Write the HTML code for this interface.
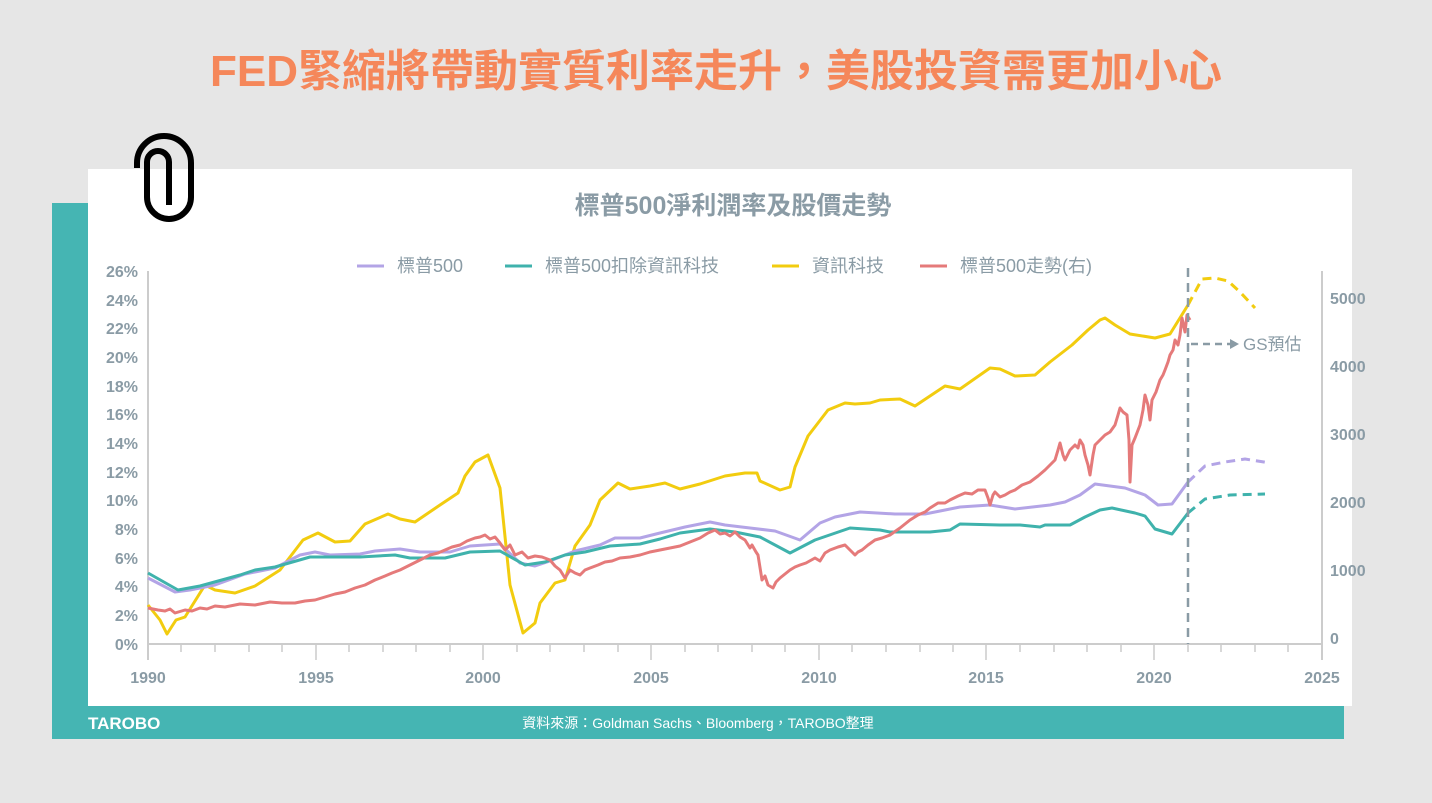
<!DOCTYPE html><html><head><meta charset="utf-8"><style>
body{margin:0;width:1432px;height:803px;background:#e6e6e6;overflow:hidden;font-family:"Liberation Sans","Noto Sans CJK TC",sans-serif}
</style></head><body>
<svg width="1432" height="803" xmlns="http://www.w3.org/2000/svg" style="position:absolute;left:0;top:0" font-family="Liberation Sans, Noto Sans CJK TC, sans-serif">
<rect x="52" y="203" width="1292" height="536" fill="#45b5b3"/>
<rect x="88" y="169" width="1264" height="537" fill="#fff"/>
<text x="716" y="86" text-anchor="middle" font-size="44" font-weight="bold" fill="#f5875a">FED緊縮將帶動實質利率走升，美股投資需更加小心</text>
<path d="M137,168 L137,163 A27,27 0 0 1 191,163 L191,197 A22,22 0 0 1 147,197 L147,162 A11,11 0 0 1 169,162 L169,205" fill="none" stroke="#000" stroke-width="6"/>
<text x="733" y="214" text-anchor="middle" font-size="25" font-weight="bold" fill="#8a9ba5">標普500淨利潤率及股價走勢</text>
<g font-size="18" fill="#8a9ba5">
<line x1="357" y1="266" x2="384" y2="266" stroke="#b3a4e6" stroke-width="3"/><text x="397" y="272">標普500</text>
<line x1="505" y1="266" x2="532" y2="266" stroke="#3fb2ac" stroke-width="3"/><text x="545" y="272">標普500扣除資訊科技</text>
<line x1="772" y1="266" x2="799" y2="266" stroke="#f2cc0f" stroke-width="3"/><text x="812" y="272">資訊科技</text>
<line x1="920" y1="266" x2="947" y2="266" stroke="#e57a7a" stroke-width="3"/><text x="960" y="272">標普500走勢(右)</text>
</g>
<g stroke="#ccc" stroke-width="2">
<line x1="148" y1="271" x2="148" y2="660"/><line x1="1322" y1="271" x2="1322" y2="660"/><line x1="148" y1="644" x2="1322" y2="644"/>
</g>
<g font-size="16" font-weight="bold" fill="#8a9ba5" text-anchor="end">
<text x="138" y="277">26%</text><text x="138" y="306">24%</text><text x="138" y="334">22%</text><text x="138" y="363">20%</text><text x="138" y="392">18%</text><text x="138" y="420">16%</text><text x="138" y="449">14%</text><text x="138" y="478">12%</text><text x="138" y="506">10%</text><text x="138" y="535">8%</text><text x="138" y="564">6%</text><text x="138" y="592">4%</text><text x="138" y="621">2%</text><text x="138" y="650">0%</text>
</g>
<g font-size="16" font-weight="bold" fill="#8a9ba5" text-anchor="start">
<text x="1330" y="304">5000</text><text x="1330" y="372">4000</text><text x="1330" y="440">3000</text><text x="1330" y="508">2000</text><text x="1330" y="576">1000</text><text x="1330" y="644">0</text>
</g>
<g font-size="16" font-weight="bold" fill="#8a9ba5" text-anchor="middle">
<text x="148" y="683">1990</text><text x="316" y="683">1995</text><text x="483" y="683">2000</text><text x="651" y="683">2005</text><text x="819" y="683">2010</text><text x="986" y="683">2015</text><text x="1154" y="683">2020</text><text x="1322" y="683">2025</text>
</g>
<g stroke="#ccc" stroke-width="1.5">
<path d="M181,644v8M215,644v8M249,644v8M282,644v8M316,644v16M349,644v8M383,644v8M416,644v8M450,644v8M483,644v16M517,644v8M550,644v8M584,644v8M618,644v8M651,644v16M685,644v8M718,644v8M752,644v8M785,644v8M819,644v16M852,644v8M886,644v8M920,644v8M953,644v8M986,644v16M1020,644v8M1054,644v8M1087,644v8M1121,644v8M1154,644v16M1188,644v8M1221,644v8M1255,644v8M1288,644v8"/>
</g>
<g fill="none" stroke-width="3" stroke-linejoin="round">
<polyline stroke="#f2cc0f" points="148,605 160,620 167,634 176,620 185,617 205,585 215,590 235,593 255,586 280,570 303,540 318,533 335,542 350,541 365,524 388,514 400,519 415,522 440,505 458,493 465,476 475,462 488,455 500,488 510,585 523,633 535,623 540,603 555,583 565,580 575,546 590,525 600,500 618,483 630,489 650,486 665,483 680,489 700,484 725,476 745,473 757,473 760,481 780,490 790,487 795,467 808,436 828,410 845,403 855,404 870,403 880,400 900,399 915,406 945,386 960,389 990,368 1000,369 1015,376 1035,375 1050,362 1072,345 1088,330 1100,320 1105,318 1115,325 1130,334 1155,338 1170,334 1188,305"/>
<polyline stroke="#f2cc0f" stroke-dasharray="9,6" points="1188,305 1202,279 1215,278 1228,281 1240,292 1255,308"/>
<polyline stroke="#b3a4e6" points="148,578 175,592 190,590 215,585 245,574 275,568 300,555 315,552 330,555 360,554 375,551 400,549 420,552 450,552 470,546 500,544 520,563 535,566 550,561 575,551 600,545 615,538 640,538 660,533 685,527 710,522 725,525 750,528 775,531 800,540 820,523 835,517 860,512 895,514 925,514 960,507 990,505 1015,509 1050,505 1065,502 1080,495 1095,484 1125,488 1145,495 1158,505 1172,504 1188,482"/>
<polyline stroke="#b3a4e6" stroke-dasharray="9,6" points="1188,482 1205,466 1225,462 1245,459 1270,463"/>
<polyline stroke="#3fb2ac" points="148,573 178,590 200,586 240,575 255,570 275,567 310,557 360,557 395,555 410,558 445,558 470,552 500,551 525,565 545,562 565,555 585,552 610,546 640,544 660,539 680,533 710,529 735,532 760,537 790,553 815,540 850,528 880,530 890,532 930,532 950,530 960,524 1000,525 1020,525 1040,527 1045,525 1070,525 1085,517 1100,510 1112,508 1135,513 1145,516 1155,529 1172,534 1188,513"/>
<polyline stroke="#3fb2ac" stroke-dasharray="9,6" points="1188,513 1205,499 1230,495 1265,494"/>
<polyline stroke="#e57a7a" points="148,608 158,610 165,611 170,609 175,613 185,610 192,611 200,608 207,609 215,606 225,607 240,604 255,605 270,602 282,603 295,603 305,601 315,600 325,597 335,594 345,592 355,588 365,585 375,580 385,576 392,573 400,570 410,565 420,560 430,555 438,553 445,550 452,547 460,545 467,541 475,538 480,537 485,535 490,539 495,537 500,543 505,550 510,545 515,555 522,552 528,558 535,556 542,557 550,560 555,566 560,570 565,578 570,570 575,573 580,575 585,570 590,568 598,565 605,562 612,561 620,558 630,557 640,555 650,552 660,550 670,548 680,546 690,542 700,538 708,533 715,530 720,534 725,533 730,536 735,532 740,537 745,540 750,548 752,545 756,552 758,555 762,580 765,576 768,585 773,588 776,582 780,578 785,574 790,570 795,567 800,565 806,563 815,558 820,561 825,553 830,550 838,547 845,545 850,550 855,555 858,552 862,550 868,545 875,540 882,538 890,535 900,528 910,520 918,515 925,512 930,508 938,503 945,503 950,500 958,496 965,493 972,494 978,490 985,490 988,498 990,505 993,495 995,492 1000,497 1005,495 1010,492 1015,490 1022,485 1030,482 1038,476 1045,470 1050,465 1055,460 1058,450 1060,443 1063,455 1065,460 1070,450 1075,445 1078,448 1080,440 1083,445 1085,455 1088,465 1090,475 1093,455 1095,445 1100,440 1105,435 1110,432 1115,425 1118,415 1120,408 1123,412 1127,415 1129,440 1130,482 1132,445 1135,438 1140,425 1143,410 1145,395 1148,405 1150,420 1152,400 1156,392 1160,380 1163,375 1165,370 1168,362 1170,355 1173,350 1175,340 1178,345 1180,335 1182,318 1185,332 1187,315 1190,320"/>
</g>
<line x1="1188" y1="268" x2="1188" y2="644" stroke="#8a9ba5" stroke-width="2.5" stroke-dasharray="9,6"/>
<line x1="1191" y1="344" x2="1232" y2="344" stroke="#8a9ba5" stroke-width="2.5" stroke-dasharray="7,5"/>
<polygon points="1230,339 1239,344 1230,349" fill="#8a9ba5"/>
<text x="1243" y="350" font-size="17" fill="#8a9ba5">GS預估</text>
<text x="88" y="729" font-size="17" font-weight="bold" fill="#fff">TAROBO</text>
<text x="698" y="728" text-anchor="middle" font-size="14" fill="#fff">資料來源：Goldman Sachs、Bloomberg，TAROBO整理</text>
</svg>
</body></html>
